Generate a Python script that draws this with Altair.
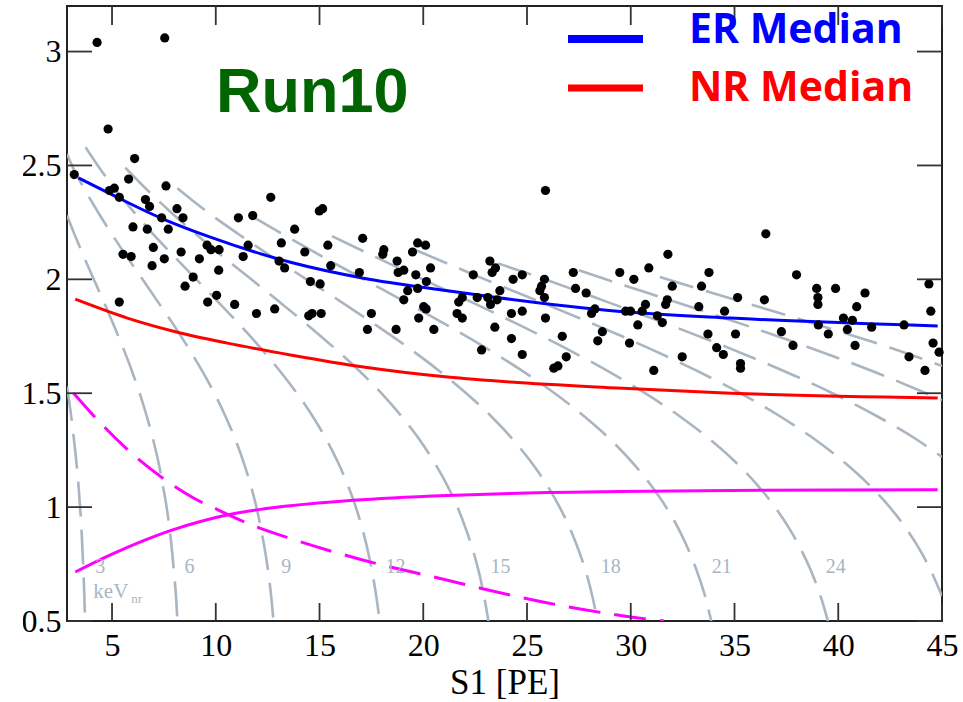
import altair as alt
import pandas as pd

# ---------------- plot geometry ----------------
W, H = 875, 615
X_DOMAIN = [2.83, 45]
Y_DOMAIN = [0.5, 3.2]

x_ticks = [5, 10, 15, 20, 25, 30, 35, 40, 45]
y_ticks = [0.5, 1, 1.5, 2, 2.5, 3]

# ---------------- candidate events: S1 [PE] vs log10(S2/S1) ----------------
event_s1 = [
    3.18, 4.28, 4.81, 6.09, 5.80, 4.88, 5.11, 5.35, 6.01, 5.53, 5.92, 5.35,
    6.61, 6.81, 6.70, 6.99, 6.93, 7.39, 7.60, 7.54, 7.71, 7.52, 8.13, 8.42,
    8.33, 8.91, 8.52, 9.21, 9.58, 9.77, 10.16, 10.14, 9.61, 10.04, 10.91, 11.09,
    11.78, 11.56, 11.32, 11.96, 12.65, 13.16, 13.05, 13.32, 12.84, 13.80, 14.29, 14.56,
    15.03, 14.99, 15.15, 15.40, 15.54, 14.48, 14.64, 15.08, 17.08, 16.92, 17.50, 17.31,
    18.10, 18.05, 18.74, 18.79, 19.06, 18.69, 19.48, 19.73, 20.11, 20.35, 19.64, 20.15,
    19.25, 19.06, 19.73, 20.02, 20.14, 19.78, 20.51, 22.41, 22.60, 21.71, 21.88, 21.63,
    21.88, 22.81, 25.89, 23.21, 23.48, 23.32, 24.33, 24.77, 23.11, 23.24, 23.56, 23.69,
    23.45, 24.25, 24.77, 24.25, 25.84, 25.70, 25.62, 25.84, 25.89, 26.70, 27.23, 27.34,
    27.85, 28.11, 28.27, 28.63, 28.41, 29.47, 30.15, 30.87, 29.75, 29.99, 30.55, 30.71,
    30.34, 29.94, 31.28, 31.52, 31.79, 32.00, 31.76, 31.68, 33.28, 33.41, 33.77, 33.72,
    34.52, 34.14, 34.46, 35.05, 35.15, 36.51, 36.44, 37.26, 37.82, 37.99, 38.96, 39.02,
    39.02, 39.87, 39.04, 39.52, 40.25, 40.68, 40.44, 40.89, 41.29, 40.81, 41.61, 43.17,
    44.37, 44.46, 44.57, 24.77, 26.29, 26.49, 26.89, 31.11, 32.48, 35.29, 35.29, 43.41,
    44.18, 44.86,
]
event_logratio = [
    2.46, 3.04, 2.66, 2.53, 2.44, 2.39, 2.40, 2.36, 2.23, 2.11, 2.10, 1.90,
    2.35, 2.32, 2.22, 2.14, 2.06, 2.27, 2.41, 3.06, 2.22, 2.09, 2.31, 2.27,
    2.12, 2.01, 1.97, 2.09, 2.15, 2.13, 2.13, 2.04, 1.90, 1.93, 1.89, 2.27,
    2.28, 2.15, 2.10, 1.85, 2.36, 2.16, 2.08, 2.05, 1.87, 2.22, 2.12, 1.99,
    1.98, 2.30, 2.31, 2.15, 2.06, 1.84, 1.85, 1.85, 2.18, 2.03, 1.85, 1.78,
    2.13, 2.11, 2.08, 2.03, 2.04, 1.78, 2.12, 2.16, 2.15, 2.05, 2.02, 1.99,
    1.95, 1.91, 1.96, 1.88, 1.87, 1.83, 1.78, 2.02, 1.92, 1.90, 1.92, 1.85,
    1.83, 1.69, 2.39, 2.08, 2.05, 2.03, 2.00, 2.02, 1.92, 1.89, 1.91, 1.95,
    1.79, 1.85, 1.86, 1.74, 2.00, 1.97, 1.95, 1.92, 1.83, 1.75, 2.03, 1.96,
    1.94, 1.85, 1.87, 1.77, 1.73, 2.03, 2.00, 2.05, 1.86, 1.86, 1.86, 1.89,
    1.80, 1.72, 1.84, 1.81, 2.11, 1.97, 1.91, 1.89, 1.88, 1.97, 2.03, 1.76,
    1.86, 1.70, 1.67, 1.76, 1.92, 2.20, 1.91, 1.77, 1.71, 2.02, 1.96, 1.92,
    1.89, 1.96, 1.80, 1.76, 1.83, 1.82, 1.78, 1.88, 1.94, 1.71, 1.79, 1.80,
    1.98, 1.86, 1.72, 1.67, 1.61, 1.62, 1.66, 1.60, 1.66, 1.63, 1.61, 1.66,
    1.60, 1.68,
]

# ---------------- band medians ----------------
er_s1 = [3.38, 4.92, 7.33, 9.74, 13.60, 17.12, 21.17, 23.72, 29.36, 34.81, 44.79]
er_ratio = [2.445, 2.375, 2.27, 2.185, 2.075, 2.005, 1.95, 1.918, 1.86, 1.83, 1.795]

nr_s1 = [3.23, 5.74, 8.15, 10.56, 13.60, 17.12, 21.17, 24.20, 29.36, 34.81, 44.79]
nr_ratio = [1.913, 1.83, 1.768, 1.72, 1.668, 1.615, 1.571, 1.549, 1.523, 1.50, 1.479]

# ---------------- magenta reference curves ----------------
mag_solid_s1 = [3.23, 4.92, 6.52, 7.81, 9.26, 10.54, 12.15, 13.60, 16.63, 21.17, 24.20, 29.40, 34.81, 44.79]
mag_solid_ratio = [0.715, 0.79, 0.853, 0.897, 0.937, 0.965, 0.99, 1.006, 1.03, 1.051, 1.06, 1.068, 1.073, 1.076]

mag_dash_s1 = [3.15, 4.59, 5.96, 7.33, 8.93, 10.06, 11.51, 13.60, 17.12, 21.17, 22.76, 27.42, 29.99, 31.60]
mag_dash_ratio = [1.50, 1.355, 1.235, 1.135, 1.04, 0.99, 0.93, 0.862, 0.767, 0.679, 0.644, 0.555, 0.518, 0.5]

# ---------------- iso-energy contours (keVnr) ----------------
grid_y = [2.5, 2.4, 2.3, 2.2, 2.1, 2.0, 1.9, 1.8, 1.7, 1.6, 1.5, 1.4, 1.3, 1.2,
          1.1, 1.0, 0.9, 0.8, 0.7, 0.6, 0.5]
contour_energy = [3, 6, 9, 12, 15, 18, 21, 24, 27, 30, 33, 36]
contour_s1 = [
    [2.83, 3.03, 3.16, 3.28, 3.38, 3.46, 3.53, 3.58, 3.63, 3.67, 3.70],
    [2.83, 3.18, 3.64, 4.12, 4.61, 5.08, 5.53, 5.95, 6.33, 6.67, 6.97, 7.23, 7.44, 7.63,
     7.78, 7.90, 8.00, 8.09, 8.15],
    [2.83, 3.07, 3.65, 4.29, 4.98, 5.71, 6.47, 7.22, 7.97, 8.67, 9.33, 9.93, 10.46, 10.93,
     11.33, 11.67, 11.96, 12.19, 12.39, 12.55, 12.68, 12.78],
    [3.72, 4.31, 5.11, 6.01, 6.97, 8.00, 9.06, 10.12, 11.16, 12.15, 13.07, 13.91, 14.66,
     15.31, 15.87, 16.35, 16.75, 17.08, 17.35, 17.57, 17.75, 17.90],
    [5.64, 6.61, 7.77, 9.02, 10.34, 11.71, 13.08, 14.42, 15.70, 16.90, 17.98, 18.94, 19.79,
     20.51, 21.13, 21.65, 22.07, 22.43, 22.72, 22.95, 23.14],
    [8.15, 9.53, 11.07, 12.69, 14.37, 16.06, 17.70, 19.28, 20.74, 22.07, 23.26, 24.29, 25.18,
     25.94, 26.57, 27.10, 27.53, 27.89, 28.17, 28.40],
    [11.68, 13.20, 15.14, 17.14, 19.15, 21.12, 23.00, 24.74, 26.33, 27.74, 28.98, 30.04,
     30.94, 31.70, 32.33, 32.84, 33.26, 33.61, 33.88],
    [15.60, 17.65, 19.98, 22.33, 24.62, 26.81, 28.84, 30.69, 32.34, 33.78, 35.02, 36.07,
     36.95, 37.68, 38.28, 38.78, 39.18, 39.50],
    [19.60, 22.97, 25.66, 28.30, 30.81, 33.15, 35.28, 37.17, 38.83, 40.25, 41.46, 42.48,
     43.32, 44.01, 44.57, 45.0],
    [23.60, 25.86, 28.89, 31.86, 34.69, 37.32, 39.72, 41.85, 43.72, 45.0],
    [27.50, 28.80, 32.18, 35.48, 38.63, 41.57, 44.23, 45.0],
    [31.40, 35.40, 39.04, 42.51, 45.0],
]
contour_ratio = [
    [1.53] + grid_y[11:],
    [2.28] + grid_y[3:],
    [2.55] + grid_y,
    [2.58] + grid_y,
    [2.49] + grid_y[1:],
    [2.40] + grid_y[2:],
    [2.28] + grid_y[3:],
    [2.19] + grid_y[4:],
    [2.13] + grid_y[5:19] + [0.61],
    [2.07] + grid_y[5:13] + [1.22],
    [2.04] + grid_y[5:11] + [1.47],
    [2.01] + grid_y[6:9] + [1.62],
]

# energy labels along the bottom
label_text = ["3", "6", "9", "12", "15", "18", "21", "24"]
label_s1 = [4.19, 8.49, 13.16, 18.18, 23.24, 28.55, 33.90, 39.40]

# ---------------- tables ----------------
events = pd.DataFrame({"s1": event_s1, "ratio": event_logratio})

rows = []
for e, xs_, ys_ in zip(contour_energy, contour_s1, contour_ratio):
    for i, (a, b) in enumerate(zip(xs_, ys_)):
        rows.append({"energy": e, "idx": i, "s1": a, "ratio": b})
contours = pd.DataFrame(rows)


def curve(xv, yv):
    return pd.DataFrame({"s1": xv, "ratio": yv, "idx": list(range(len(xv)))})


er_df = curve(er_s1, er_ratio)
nr_df = curve(nr_s1, nr_ratio)
mag_solid_df = curve(mag_solid_s1, mag_solid_ratio)
mag_dash_df = curve(mag_dash_s1, mag_dash_ratio)
labels_df = pd.DataFrame({"s1": label_s1, "ratio": [0.71] * len(label_s1), "text": label_text})
unit_df = pd.DataFrame({"s1": [4.10], "ratio": [0.60], "text": ["keV"]})
unit_sub_df = pd.DataFrame({"s1": [5.93], "ratio": [0.578], "text": ["nr"]})
xtick_df = pd.DataFrame({"s1": x_ticks})
ytick_df = pd.DataFrame({"ratio": y_ticks})

# ---------------- scales / axes ----------------
x_scale = alt.Scale(domain=X_DOMAIN, nice=False, zero=False)
y_scale = alt.Scale(domain=Y_DOMAIN, nice=False, zero=False)

SERIF = "Liberation Serif"
x_axis = alt.Axis(
    values=x_ticks, format="d", grid=False, domain=False, ticks=False, tickSize=0,
    labelFont=SERIF, labelFontSize=32, labelColor="black", labelPadding=9,
    labelFlush=False, labelOverlap=False,
    title="S1 [PE]", titleFont=SERIF, titleFontSize=35, titleFontWeight="normal",
    titleColor="black", titleBaseline="alphabetic", titleY=72,
)
y_axis = alt.Axis(
    values=y_ticks, format="~g", grid=False, domain=False, ticks=False, tickSize=0,
    labelFont=SERIF, labelFontSize=32, labelColor="black", labelPadding=6,
    labelFlush=False, labelOverlap=False, labelBaseline="middle", title=None,
)


def X(field="s1"):
    return alt.X(f"{field}:Q", scale=x_scale, axis=x_axis)


def Y(field="ratio"):
    return alt.Y(f"{field}:Q", scale=y_scale, axis=y_axis)


GRAY = "#a9b6c1"

contour_layer = alt.Chart(contours).mark_line(
    clip=True, color=GRAY, strokeWidth=2.6, strokeDash=[35, 13], interpolate="monotone"
).encode(x=X(), y=Y(), detail="energy:N", order="idx:Q")

mag_solid = alt.Chart(mag_solid_df).mark_line(
    clip=True, color="#ff00ff", strokeWidth=3, interpolate="monotone"
).encode(x=X(), y=Y(), order="idx:Q")

mag_dash = alt.Chart(mag_dash_df).mark_line(
    clip=True, color="#ff00ff", strokeWidth=3, strokeDash=[32, 14], interpolate="monotone"
).encode(x=X(), y=Y(), order="idx:Q")

er_line = alt.Chart(er_df).mark_line(
    clip=True, color="#0000ff", strokeWidth=3, interpolate="monotone"
).encode(x=X(), y=Y(), order="idx:Q")

nr_line = alt.Chart(nr_df).mark_line(
    clip=True, color="#ff0000", strokeWidth=3, interpolate="monotone"
).encode(x=X(), y=Y(), order="idx:Q")

points = alt.Chart(events).mark_circle(
    color="black", size=85, opacity=1
).encode(x=X(), y=Y())

energy_labels = alt.Chart(labels_df).mark_text(
    font=SERIF, fontSize=20, color=GRAY, align="left", baseline="alphabetic"
).encode(x=X(), y=Y(), text="text:N")

unit_label = alt.Chart(unit_df).mark_text(
    font=SERIF, fontSize=21, color=GRAY, align="left", baseline="alphabetic"
).encode(x=X(), y=Y(), text="text:N")

unit_sub = alt.Chart(unit_sub_df).mark_text(
    font=SERIF, fontSize=13, color=GRAY, align="left", baseline="alphabetic"
).encode(x=X(), y=Y(), text="text:N")

# inward ticks on all four sides of the frame
TICK = "#333333"
bottom_ticks = alt.Chart(xtick_df).mark_rule(color=TICK, strokeWidth=1.8).encode(
    x=X(), y=alt.value(H), y2=alt.value(H - 18))
top_ticks = alt.Chart(xtick_df).mark_rule(color=TICK, strokeWidth=1.8).encode(
    x=X(), y=alt.value(0), y2=alt.value(19))
left_ticks = alt.Chart(ytick_df).mark_rule(color=TICK, strokeWidth=1.8).encode(
    y=Y(), x=alt.value(0), x2=alt.value(25))
right_ticks = alt.Chart(ytick_df).mark_rule(color=TICK, strokeWidth=1.8).encode(
    y=Y(), x=alt.value(W - 25), x2=alt.value(W))

# run tag and legend
one = pd.DataFrame({"k": [0]})
run_tag = alt.Chart(one).mark_text(
    font="Liberation Sans", fontWeight="bold", fontSize=63, color="#006400",
    align="left", baseline="alphabetic"
).encode(x=alt.value(149), y=alt.value(106), text=alt.value("Run10"))

LEG_FONT = "Open Sans"
er_key = alt.Chart(one).mark_rule(color="#0000ff", strokeWidth=8).encode(
    x=alt.value(501), x2=alt.value(576), y=alt.value(33))
nr_key = alt.Chart(one).mark_rule(color="#ff0000", strokeWidth=7).encode(
    x=alt.value(501), x2=alt.value(576), y=alt.value(82))
er_text = alt.Chart(one).mark_text(
    font=LEG_FONT, fontWeight="bold", fontSize=41, color="#0000ff",
    align="left", baseline="alphabetic"
).encode(x=alt.value(622), y=alt.value(37), text=alt.value("ER Median"))
nr_text = alt.Chart(one).mark_text(
    font=LEG_FONT, fontWeight="bold", fontSize=41, color="#ff0000",
    align="left", baseline="alphabetic"
).encode(x=alt.value(622), y=alt.value(95), text=alt.value("NR Median"))

# white margin strip at the far left edge of the figure
edge_strip = alt.Chart(one).mark_rect(color="white", clip=False).encode(
    x=alt.value(-67), x2=alt.value(-44), y=alt.value(-6), y2=alt.value(H + 81))

chart = alt.layer(
    contour_layer, mag_solid, mag_dash, nr_line, er_line, points,
    energy_labels, unit_label, unit_sub,
    bottom_ticks, top_ticks, left_ticks, right_ticks,
    run_tag, er_key, nr_key, er_text, nr_text, edge_strip,
).properties(
    width=W, height=H,
    padding={"left": 67, "top": 6, "right": 21, "bottom": 81},
    autosize=alt.AutoSizeParams(type="none"),
    background="white",
).configure_view(
    stroke="#222222", strokeWidth=2
).configure_axis(
    labelFont=SERIF, labelFontSize=32, labelColor="black",
    titleFont=SERIF, titleFontSize=35, titleFontWeight="normal", titleColor="black",
)

chart.save("out.html", embed_options={"renderer": "svg", "actions": False})
